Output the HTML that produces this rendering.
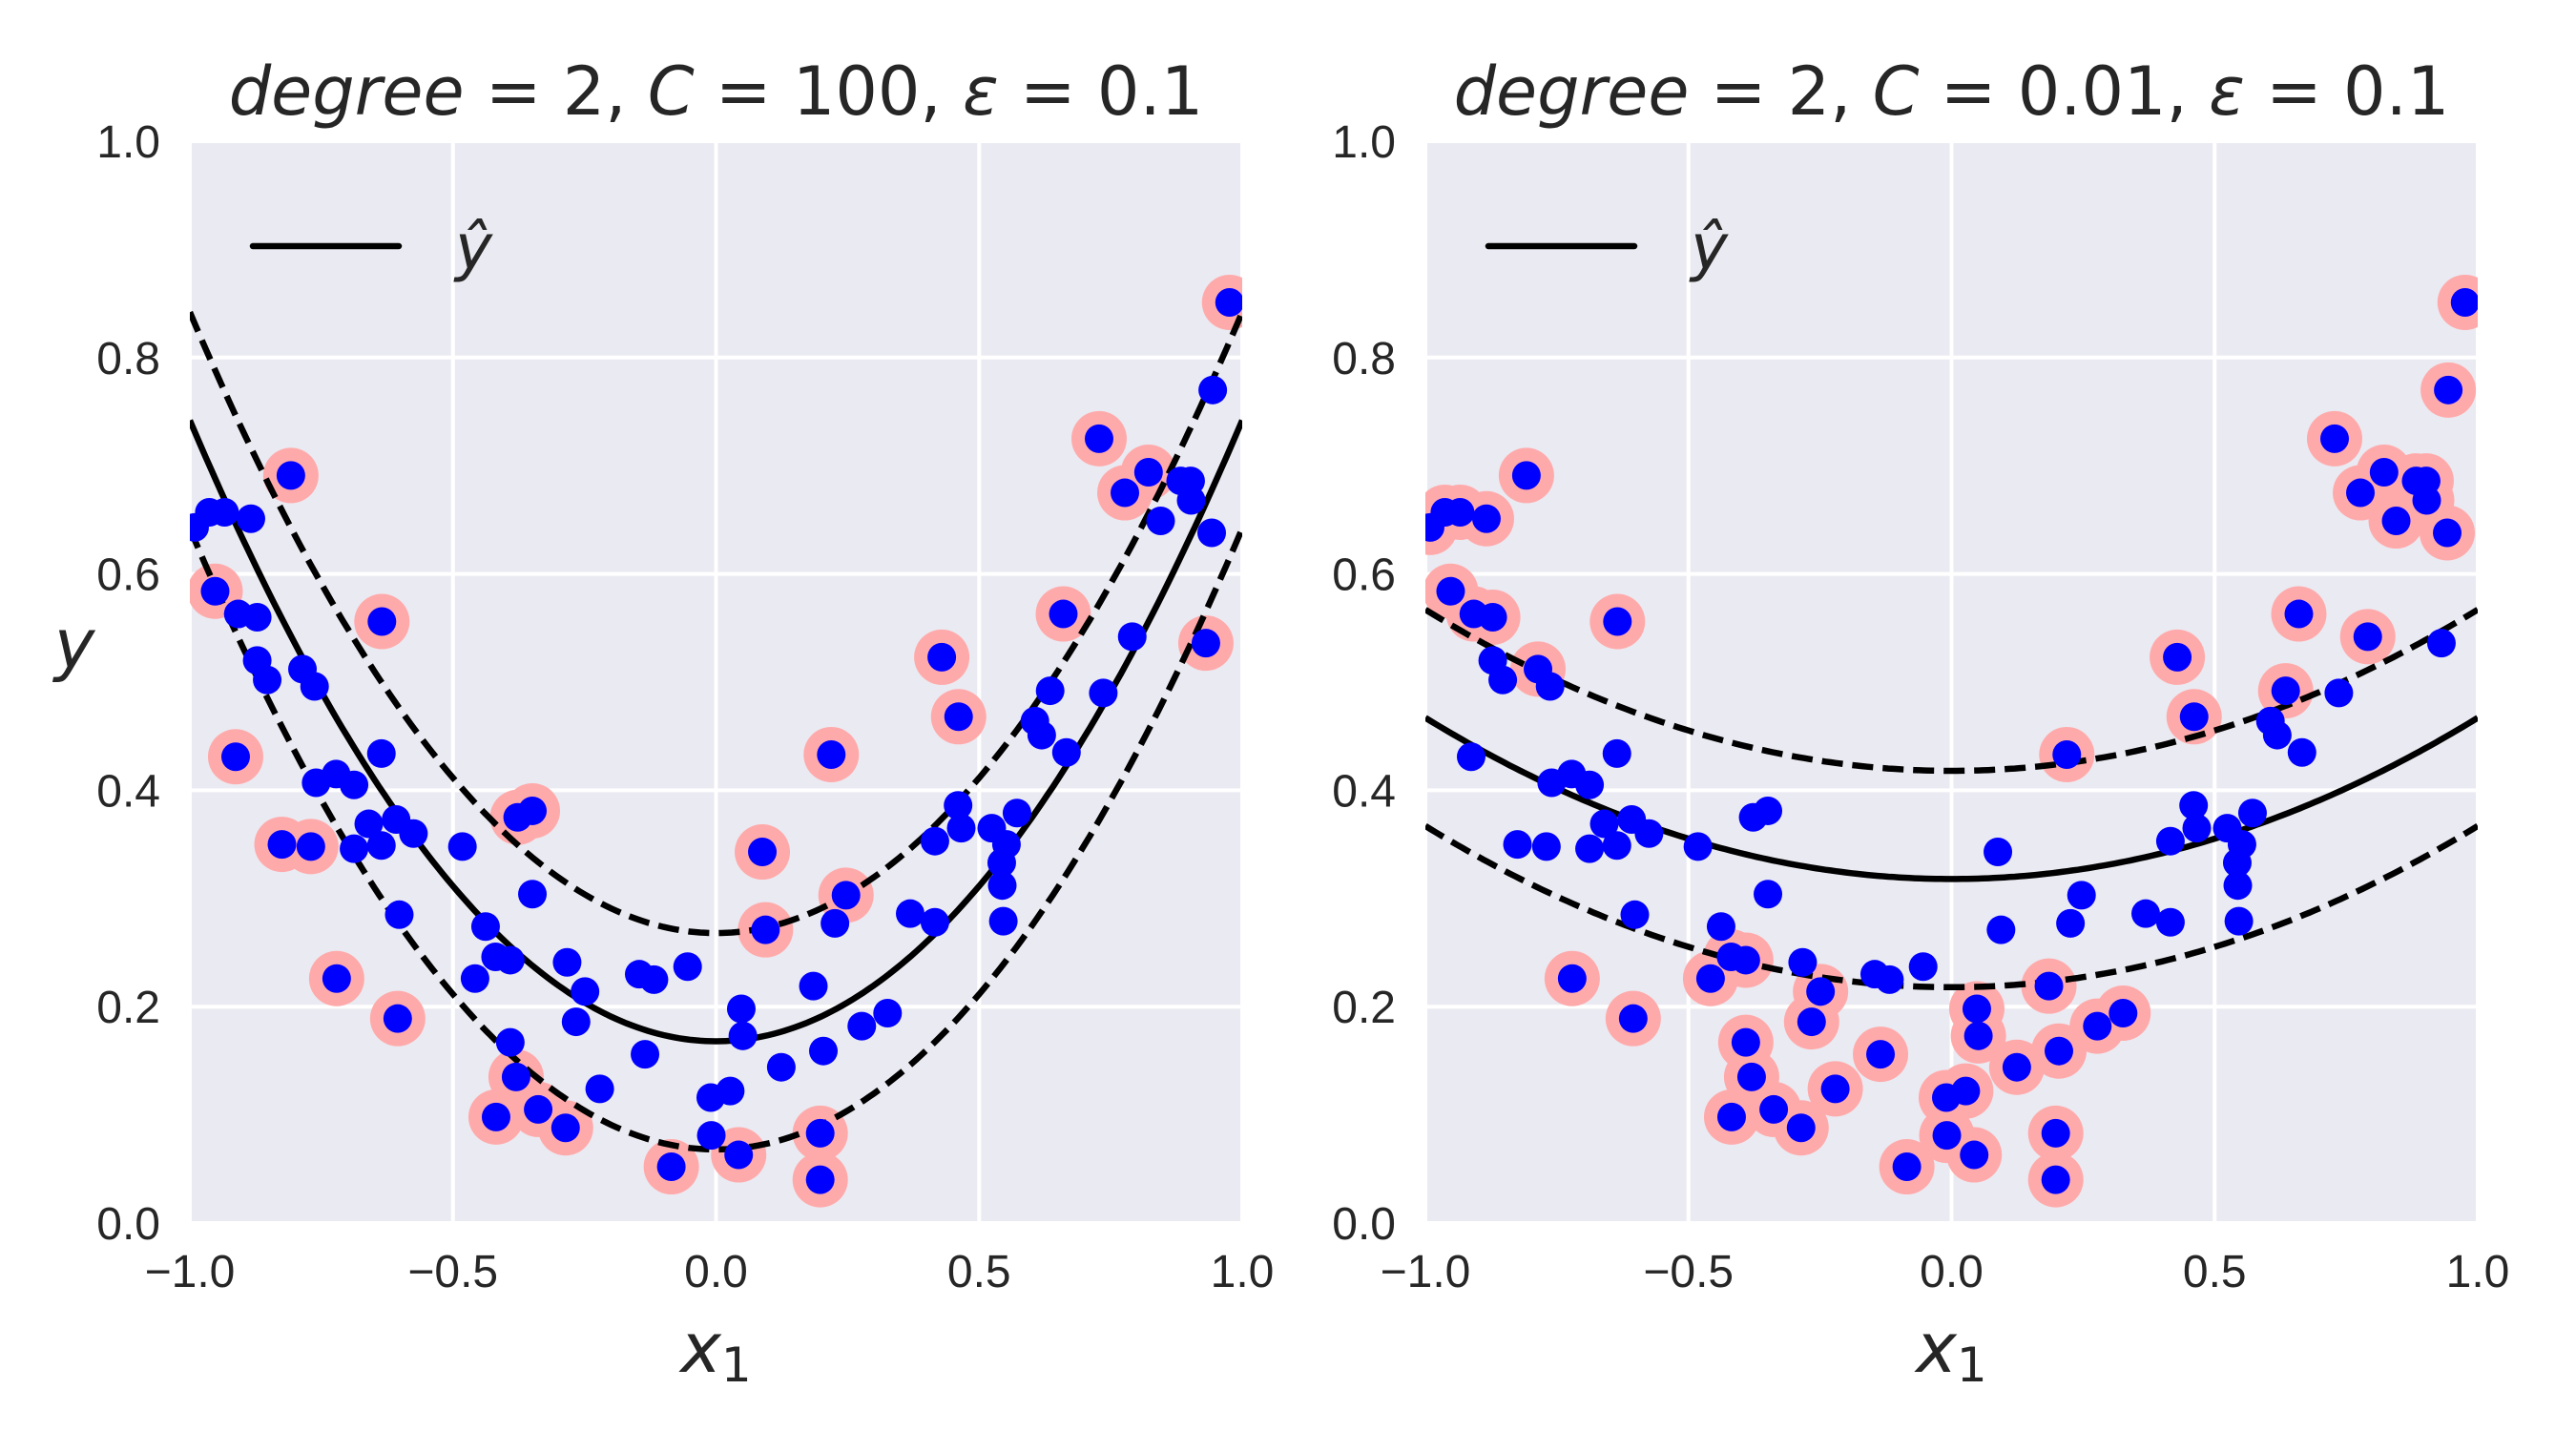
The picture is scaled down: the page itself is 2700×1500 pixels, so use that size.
<!DOCTYPE html>
<html><head><meta charset="utf-8"><style>
html,body{margin:0;padding:0;background:#fff;}
svg{display:block;}
.tick{font-family:"Liberation Sans",Arial,sans-serif;font-size:48px;fill:#262626;}
.math{font-family:"DejaVu Sans",sans-serif;font-style:italic;fill:#262626;}
.up{font-style:normal;}
</style></head><body>
<svg id="chart" width="2700" height="1500" viewBox="0 0 2700 1500" xmlns="http://www.w3.org/2000/svg"></svg>
<script>
const xs = [-0.991,-0.963,-0.934,-0.884,-0.952,-0.908,-0.872,-0.872,-0.853,-0.808,-0.786,-0.763,-0.913,-0.760,-0.722,-0.688,-0.825,-0.770,-0.688,-0.660,-0.636,-0.608,-0.575,-0.635,-0.636,-0.602,-0.721,-0.605,-0.482,-0.377,-0.349,-0.349,-0.438,-0.458,-0.419,-0.391,-0.391,-0.380,-0.418,-0.338,-0.286,-0.283,-0.249,-0.266,-0.221,-0.146,-0.118,-0.054,-0.135,-0.085,-0.010,0.027,-0.009,0.043,0.048,0.051,0.088,0.094,0.124,0.185,0.204,0.219,0.226,0.247,0.277,0.326,0.198,0.198,0.369,0.416,0.416,0.429,0.460,0.466,0.461,0.524,0.543,0.552,0.544,0.546,0.572,0.606,0.619,0.635,0.666,0.660,0.736,0.791,0.728,0.777,0.822,0.845,0.883,0.902,0.903,0.942,0.944,0.931,0.976];
const ys = [0.643,0.657,0.657,0.651,0.584,0.563,0.560,0.520,0.502,0.691,0.512,0.496,0.431,0.407,0.415,0.405,0.350,0.348,0.346,0.369,0.349,0.373,0.360,0.556,0.434,0.285,0.226,0.189,0.348,0.375,0.381,0.304,0.274,0.226,0.246,0.243,0.167,0.135,0.098,0.105,0.088,0.241,0.214,0.186,0.124,0.230,0.225,0.237,0.156,0.052,0.116,0.122,0.081,0.063,0.198,0.173,0.343,0.271,0.144,0.219,0.159,0.433,0.277,0.303,0.182,0.194,0.083,0.040,0.286,0.278,0.353,0.523,0.386,0.365,0.468,0.365,0.333,0.350,0.312,0.279,0.379,0.464,0.451,0.492,0.435,0.563,0.490,0.542,0.725,0.675,0.694,0.649,0.686,0.686,0.668,0.638,0.770,0.536,0.851];
const cValues = ["100","0.01"];
const intercepts = [0.168, 0.318];
const quadCoefs = [0.574, 0.149];
const epsilon = 0.1;
const xTicks = [-1.0,-0.5,0.0,0.5,1.0];
const xTickLabels = ["\u22121.0","\u22120.5","0.0","0.5","1.0"];
const yTicks = [0.0,0.2,0.4,0.6,0.8,1.0];
const yTickLabels = ["0.0","0.2","0.4","0.6","0.8","1.0"];

const NS="http://www.w3.org/2000/svg";
const svg=document.getElementById('chart');
function mk(tag,attrs,parent){const e=document.createElementNS(NS,tag);for(const k in attrs)e.setAttribute(k,attrs[k]);(parent||svg).appendChild(e);return e;}

const panels=[{x0:199,x1:1302},{x0:1494,x1:2597}];
const Y0=148,Y1=1282;
panels.forEach((p,pi)=>{
  const sx=v=>p.x0+(v+1)/2*(p.x1-p.x0);
  const sy=v=>Y1-v*(Y1-Y0);
  const g=mk('g',{});
  
  
  const bg=mk('rect',{x:p.x0,y:Y0,width:p.x1-p.x0,height:Y1-Y0,fill:'#eaeaf2'},g);
  
  
  const cp=mk('clipPath',{id:'clip'+pi},g);
  mk('rect',{x:p.x0,y:Y0,width:p.x1-p.x0,height:Y1-Y0},cp);
  xTicks.forEach((t,i)=>{
    const l=mk('line',{x1:sx(t),x2:sx(t),y1:Y0,y2:Y1,stroke:'#fff','stroke-width':4},g);
    
    
    const tx=mk('text',{x:sx(t),y:1349,'text-anchor':'middle',class:'tick'},g);
    tx.textContent=xTickLabels[i];
    
    
  });
  yTicks.forEach((t,i)=>{
    const l=mk('line',{x1:p.x0,x2:p.x1,y1:sy(t),y2:sy(t),stroke:'#fff','stroke-width':4},g);
    
    
    const tx=mk('text',{x:p.x0-31,y:sy(t)+17,'text-anchor':'end',class:'tick'},g);
    tx.textContent=yTickLabels[i];
    
    
  });
  const plot=mk('g',{'clip-path':'url(#clip'+pi+')'},g);
  
  
  const f=x=>intercepts[pi]+quadCoefs[pi]*x*x;
  xs.forEach((x,i)=>{
    if(Math.abs(ys[i]-f(x))>=epsilon*0.975){
      const c=mk('circle',{cx:sx(x),cy:sy(ys[i]),r:29,fill:'#ffaaaa'},plot);
      
      
    }
  });
  [[0,'none','prediction-line'],[epsilon,'22 10','upper-margin'],[-epsilon,'22 10','lower-margin']].forEach(([off,dash,name])=>{
    let d='';
    for(let k=0;k<=200;k++){const x=-1+2*k/200;d+=(k?'L':'M')+sx(x).toFixed(1)+','+sy(f(x)+off).toFixed(1);}
    const pth=mk('path',{d:d,fill:'none',stroke:'#000','stroke-width':6.5,'stroke-dasharray':dash},plot);
    
    
  });
  xs.forEach((x,i)=>{
    const c=mk('circle',{cx:sx(x),cy:sy(ys[i]),r:15,fill:'#0000ff'},plot);
    
    
  });
  const lg=mk('g',{},g);
  
  
  mk('line',{x1:p.x0+66,x2:p.x0+219,y1:258,y2:258,stroke:'#000','stroke-width':6.5,'stroke-linecap':'round'},lg);
  const lt=mk('text',{x:p.x0+278,y:282,class:'math','font-size':66},lg);
  lt.textContent='ŷ';
  
  
  const ti=mk('text',{x:(p.x0+p.x1)/2,y:120,'text-anchor':'middle',class:'math','font-size':70},g);
  ti.innerHTML='degree<tspan class="up"> = 2, </tspan>C<tspan class="up"> = '+cValues[pi]+', </tspan>ε<tspan class="up"> = 0.1</tspan>';
  
  
  const xl=mk('text',{x:(p.x0+p.x1)/2,y:1438,'text-anchor':'middle',class:'math','font-size':72},g);
  xl.innerHTML='x<tspan font-size="50" font-style="normal" dy="10">1</tspan>';
  
  
  if(pi===0){
    const yl=mk('text',{x:78,y:700,'text-anchor':'middle',class:'math','font-size':72},g);
    yl.textContent='y';
    
    
  }
});
</script>
</body></html>
